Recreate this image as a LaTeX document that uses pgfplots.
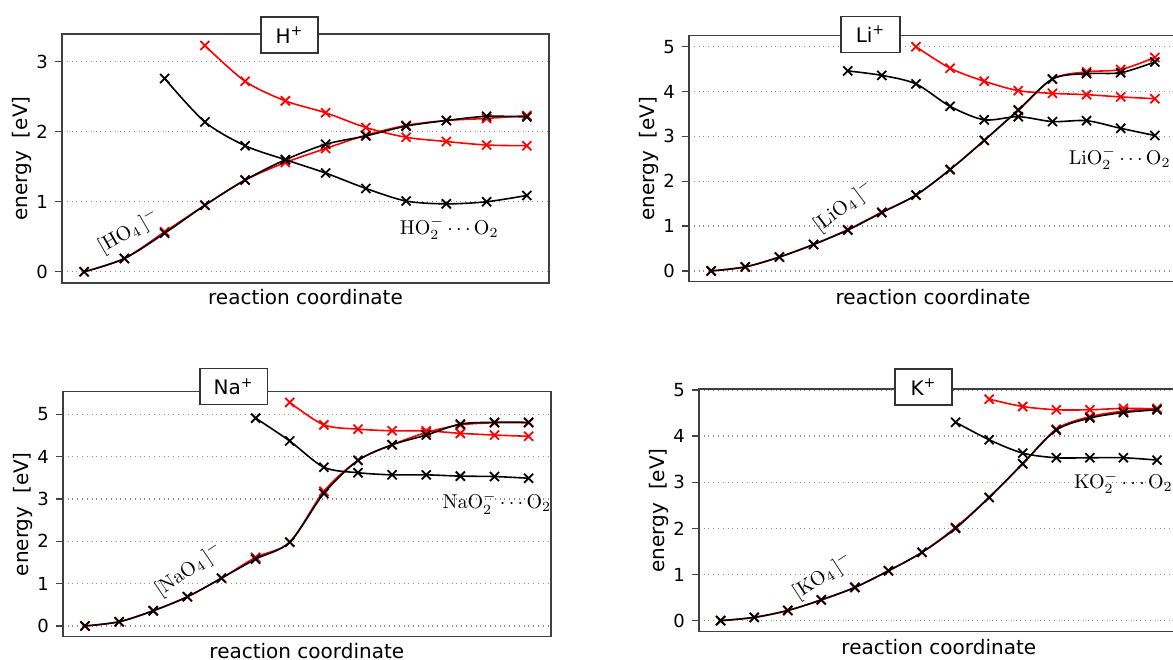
\documentclass[border=0pt]{standalone}
\usepackage[no-math]{fontspec}
\setmainfont{DejaVu Sans}
\usepackage{pgfplots}
\pgfplotsset{compat=1.18}
\usetikzlibrary{calc}

\pgfplotsset{
  panel/.style={
    scale only axis,
    anchor=south west,
    xtick=\empty,
    ytick pos=left,
    ymajorgrids=true,
    major grid style={dotted, black!45, line width=0.6pt},
    axis line style={black!75, line width=0.7pt},
    ytick style={black!75, line width=0.6pt},
    tick align=outside,
    major tick length=3.5pt,
    tick label style={font=\fontsize{9}{10}\selectfont},
    /pgf/number format/assume math mode=true,
    label style={font=\fontsize{10}{12}\selectfont},
    xlabel={reaction coordinate},
    ylabel={energy\ \ [eV]},
    ylabel style={at={(axis description cs:-0.082,0.5)}, anchor=center},
    clip mode=individual,
    every axis plot/.append style={smooth, mark=x, mark size=3.2pt,
      line width=0.8pt, mark options={solid, line width=0.9pt}},
  },
}
\tikzset{
  tbox/.style={draw=black!80, fill=white, line width=0.6pt, inner sep=0pt,
    minimum height=18pt, font=\fontsize{10}{12}\selectfont},
  ann/.style={font=\fontsize{10.3}{12}\selectfont, inner sep=0pt},
}

\begin{document}
\begin{tikzpicture}
\useasboundingbox (0,0) rectangle (586.5pt,329.5pt);
\clip (0,0) rectangle (586.5pt,329.5pt);

% ---------- H+ ----------
\begin{axis}[panel, at={(31pt,188pt)}, width=243.5pt, height=124.5pt,
    xmin=-0.55, xmax=11.55, ymin=-0.16, ymax=3.395, ytick={0,1,2,3},
    xlabel style={at={(axis description cs:0.5,-0.056)}, anchor=center}]
\addplot[red] coordinates {(0,0)(1,0.19)(2,0.57)(3,0.95)(4,1.31)(5,1.56)(6,1.76)(7,1.95)(8,2.09)(9,2.16)(10,2.19)(11,2.23)};
\addplot[red] coordinates {(3,3.23)(4,2.72)(5,2.44)(6,2.27)(7,2.06)(8,1.92)(9,1.86)(10,1.81)(11,1.80)};
\addplot[black] coordinates {(0,0)(1,0.19)(2,0.55)(3,0.95)(4,1.31)(5,1.60)(6,1.82)(7,1.94)(8,2.08)(9,2.16)(10,2.22)(11,2.21)};
\addplot[black] coordinates {(2,2.76)(3,2.14)(4,1.80)(5,1.60)(6,1.41)(7,1.19)(8,1.01)(9,0.97)(10,1.00)(11,1.09)};
\node[ann, rotate=30] at (axis cs:1.11,0.57) {$[\mathrm{HO}_4\,]^-$};
\node[ann] at (axis cs:9.07,0.62) {$\mathrm{HO}_2^-\cdots\mathrm{O}_2$};
\end{axis}
\node[tbox, minimum width=28.5pt] at (144.75pt,312pt) {H\textsuperscript{+}};

% ---------- Li+ ----------
\begin{axis}[panel, at={(344.5pt,188.65pt)}, width=244pt, height=123pt,
    xmin=-0.65, xmax=13.65, ymin=-0.24, ymax=5.245, ytick={0,1,2,3,4,5},
    xlabel style={at={(axis description cs:0.5,-0.061)}, anchor=center}]
\addplot[red] coordinates {(0,0)(1,0.09)(2,0.31)(3,0.59)(4,0.92)(5,1.31)(6,1.69)(7,2.26)(8,2.91)(9,3.58)(10,4.28)(11,4.44)(12,4.49)(13,4.76)};
\addplot[red] coordinates {(6,5.00)(7,4.52)(8,4.23)(9,4.02)(10,3.96)(11,3.93)(12,3.88)(13,3.84)};
\addplot[black] coordinates {(0,0)(1,0.09)(2,0.31)(3,0.59)(4,0.91)(5,1.30)(6,1.69)(7,2.26)(8,2.91)(9,3.59)(10,4.28)(11,4.40)(12,4.42)(13,4.66)};
\addplot[black] coordinates {(4,4.46)(5,4.36)(6,4.17)(7,3.67)(8,3.37)(9,3.44)(10,3.33)(11,3.35)(12,3.18)(13,3.02)};
\node[ann, rotate=37] at (axis cs:3.89,1.43) {$[\mathrm{LiO}_4\,]^-$};
\node[ann] at (axis cs:11.97,2.52) {$\mathrm{LiO}_2^-\cdots\mathrm{O}_2$};
\end{axis}
\node[tbox, minimum width=29.5pt] at (435.25pt,312.4pt) {Li\textsuperscript{+}};

% ---------- Na+ ----------
\begin{axis}[panel, at={(31.4pt,11.15pt)}, width=244pt, height=122.5pt,
    xmin=-0.65, xmax=13.65, ymin=-0.253, ymax=5.534, ytick={0,1,2,3,4,5},
    xlabel style={at={(axis description cs:0.5,-0.057)}, anchor=center}]
\addplot[red] coordinates {(0,0)(1,0.10)(2,0.36)(3,0.69)(4,1.13)(5,1.62)(6,1.98)(7,3.18)(8,3.91)(9,4.28)(10,4.57)(11,4.75)(12,4.80)(13,4.80)};
\addplot[red] coordinates {(6,5.28)(7,4.75)(8,4.65)(9,4.61)(10,4.61)(11,4.55)(12,4.51)(13,4.48)};
\addplot[black] coordinates {(0,0)(1,0.10)(2,0.36)(3,0.69)(4,1.13)(5,1.58)(6,1.98)(7,3.13)(8,3.91)(9,4.28)(10,4.51)(11,4.77)(12,4.81)(13,4.81)};
\addplot[black] coordinates {(5,4.91)(6,4.37)(7,3.75)(8,3.62)(9,3.57)(10,3.57)(11,3.54)(12,3.53)(13,3.49)};
\node[ann, rotate=34] at (axis cs:3.05,1.32) {$[\mathrm{NaO}_4\,]^-$};
\node[ann] at (axis cs:12.07,2.91) {$\mathrm{NaO}_2^-\cdots\mathrm{O}_2$};
\end{axis}
\node[tbox, minimum width=33.7pt] at (116.85pt,136.25pt) {Na\textsuperscript{+}};

% ---------- K+ ----------
\begin{axis}[panel, at={(349.4pt,13.65pt)}, width=240pt, height=121.35pt,
    xmin=-0.65, xmax=13.65, ymin=-0.24, ymax=5.02, ytick={0,1,2,3,4,5},
    xlabel style={at={(axis description cs:0.5,-0.062)}, anchor=center}]
\addplot[red] coordinates {(0,0)(1,0.07)(2,0.22)(3,0.45)(4,0.72)(5,1.08)(6,1.48)(7,2.02)(8,2.67)(9,3.40)(10,4.15)(11,4.42)(12,4.54)(13,4.60)};
\addplot[red] coordinates {(8,4.80)(9,4.64)(10,4.57)(11,4.57)(12,4.60)(13,4.59)};
\addplot[black] coordinates {(0,0)(1,0.07)(2,0.22)(3,0.45)(4,0.72)(5,1.08)(6,1.48)(7,2.00)(8,2.67)(9,3.40)(10,4.13)(11,4.39)(12,4.51)(13,4.57)};
\addplot[black] coordinates {(7,4.30)(8,3.92)(9,3.63)(10,3.53)(11,3.53)(12,3.53)(13,3.48)};
\node[ann, rotate=33] at (axis cs:3.05,0.95) {$[\mathrm{KO}_4\,]^-$};
\node[ann] at (axis cs:12.0,2.99) {$\mathrm{KO}_2^-\cdots\mathrm{O}_2$};
\end{axis}
\node[tbox, minimum width=28.5pt] at (461.75pt,136pt) {K\textsuperscript{+}};
\end{tikzpicture}
\end{document}
